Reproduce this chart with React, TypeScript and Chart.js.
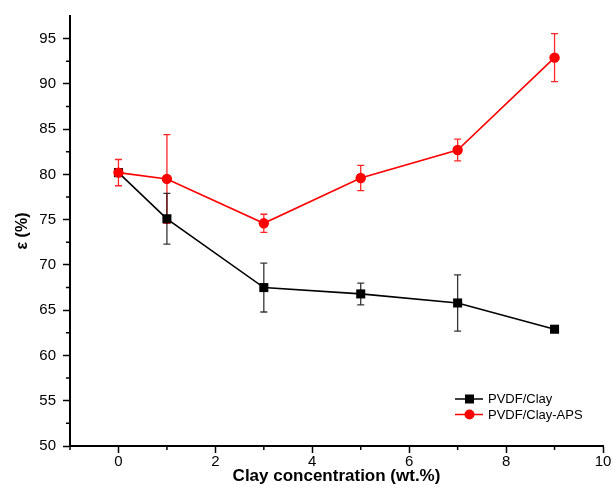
import React, { useEffect, useRef } from "react";
import { Chart, registerables } from "chart.js";

Chart.register(...registerables);

const concentrations = [0, 1, 3, 5, 7, 9];
const clayValues = [80.2, 75.1, 67.5, 66.8, 65.8, 62.9];
const clayErrors = [0, 2.8, 2.7, 1.2, 3.1, 0];
const apsValues = [80.2, 79.5, 74.6, 79.6, 82.7, 92.9];
const apsErrors = [1.45, 4.9, 1.0, 1.4, 1.2, 2.65];

const xMajorTicks = [0, 2, 4, 6, 8, 10];
const xMinorTicks = [-1, 1, 3, 5, 7, 9];
const yMajorTicks = [50, 55, 60, 65, 70, 75, 80, 85, 90, 95];
const yMinorTicks = [52.5, 57.5, 62.5, 67.5, 72.5, 77.5, 82.5, 87.5, 92.5];

const FONT = "'Liberation Sans', Arial, sans-serif";

const errorBarPlugin = {
  id: "errorBars",
  beforeDatasetsDraw(chart: any) {
    const ctx = chart.ctx;
    const xs = chart.scales.x;
    const ys = chart.scales.y;
    chart.data.datasets.forEach((ds: any) => {
      const errs: number[] = ds.errors || [];
      ctx.save();
      ctx.strokeStyle = ds.errorColor;
      ctx.lineWidth = 1.3;
      ds.data.forEach((pt: any, i: number) => {
        const e = errs[i];
        if (!e) return;
        const px = xs.getPixelForValue(pt.x);
        const top = ys.getPixelForValue(pt.y + e);
        const bot = ys.getPixelForValue(pt.y - e);
        ctx.beginPath();
        ctx.moveTo(px, top);
        ctx.lineTo(px, bot);
        ctx.moveTo(px - 3.5, top);
        ctx.lineTo(px + 3.5, top);
        ctx.moveTo(px - 3.5, bot);
        ctx.lineTo(px + 3.5, bot);
        ctx.stroke();
      });
      ctx.restore();
    });
  },
};

const minorTickPlugin = {
  id: "minorTicks",
  afterDraw(chart: any) {
    const ctx = chart.ctx;
    const xs = chart.scales.x;
    const ys = chart.scales.y;
    const area = chart.chartArea;
    ctx.save();
    ctx.strokeStyle = "#000";
    ctx.lineWidth = 1.5;
    ctx.beginPath();
    xMinorTicks.forEach((v) => {
      const px = xs.getPixelForValue(v);
      ctx.moveTo(px, area.bottom);
      ctx.lineTo(px, area.bottom + 4);
    });
    yMinorTicks.forEach((v) => {
      const py = ys.getPixelForValue(v);
      ctx.moveTo(area.left, py);
      ctx.lineTo(area.left - 4, py);
    });
    ctx.stroke();
    ctx.restore();
  },
};

const legendPlugin = {
  id: "insideLegend",
  afterDraw(chart: any) {
    const ctx = chart.ctx;
    const area = chart.chartArea;
    const x0 = area.right - 148;
    const y0 = area.bottom - 47;
    const rows = [chart.data.datasets[1], chart.data.datasets[0]];
    ctx.save();
    rows.forEach((ds: any, i: number) => {
      const y = y0 + i * 15.5;
      ctx.strokeStyle = ds.borderColor;
      ctx.lineWidth = 1.5;
      ctx.beginPath();
      ctx.moveTo(x0, y);
      ctx.lineTo(x0 + 28, y);
      ctx.stroke();
      ctx.fillStyle = ds.pointBackgroundColor;
      const cx = x0 + 14.5;
      if (ds.pointStyle === "rect") {
        ctx.fillRect(cx - 4.5, y - 4.5, 9, 9);
      } else {
        ctx.beginPath();
        ctx.arc(cx, y, 5, 0, Math.PI * 2);
        ctx.fill();
      }
      ctx.fillStyle = "#000";
      ctx.font = `13px ${FONT}`;
      ctx.textBaseline = "middle";
      ctx.textAlign = "left";
      ctx.fillText(ds.label, x0 + 33, y + 0.5);
    });
    ctx.restore();
  },
};

export default function App() {
  const canvasRef = useRef<HTMLCanvasElement | null>(null);

  useEffect(() => {
    const canvas = canvasRef.current;
    if (!canvas) return;
    const chart = new Chart(canvas, {
      type: "line",
      data: {
        datasets: [
          {
            label: "PVDF/Clay-APS",
            data: concentrations.map((x, i) => ({ x, y: apsValues[i] })),
            errors: apsErrors,
            errorColor: "rgba(255,0,0,0.85)",
            borderColor: "#ff0000",
            backgroundColor: "#ff0000",
            pointBackgroundColor: "#ff0000",
            pointBorderColor: "#ff0000",
            pointStyle: "circle",
            pointRadius: 5.2,
            pointBorderWidth: 0,
            borderWidth: 1.6,
            order: 0,
          } as any,
          {
            label: "PVDF/Clay",
            data: concentrations.map((x, i) => ({ x, y: clayValues[i] })),
            errors: clayErrors,
            errorColor: "rgba(0,0,0,0.8)",
            borderColor: "#000000",
            backgroundColor: "#000000",
            pointBackgroundColor: "#000000",
            pointBorderColor: "#000000",
            pointStyle: "rect",
            pointRadius: 6.4,
            pointBorderWidth: 0,
            borderWidth: 1.6,
            order: 1,
          } as any,
        ],
      },
      options: {
        animation: false,
        responsive: false,
        layout: { padding: { left: 0, top: 14, right: 13, bottom: 0 } },
        plugins: {
          legend: { display: false },
          tooltip: { enabled: false },
        },
        scales: {
          x: {
            type: "linear",
            min: -1,
            max: 10,
            afterBuildTicks: (scale: any) => {
              scale.ticks = xMajorTicks.map((v) => ({ value: v }));
            },
            afterFit: (scale: any) => {
              scale.height = 50;
            },
            grid: {
              drawOnChartArea: false,
              drawTicks: true,
              tickLength: 7,
              tickColor: "#000",
              tickWidth: 1.5,
            },
            border: { display: true, color: "#000", width: 2 },
            ticks: {
              color: "#000",
              font: { family: FONT, size: 15 },
              padding: 0,
              maxRotation: 0,
              autoSkip: false,
            },
            title: {
              display: true,
              text: "Clay concentration (wt.%)",
              color: "#000",
              font: { family: FONT, size: 17, weight: "bold" },
              padding: { top: 0, bottom: 9.8 },
            },
          },
          y: {
            type: "linear",
            min: 50,
            max: 97.5,
            afterBuildTicks: (scale: any) => {
              scale.ticks = yMajorTicks.map((v) => ({ value: v }));
            },
            afterFit: (scale: any) => {
              scale.width = 70;
            },
            grid: {
              drawOnChartArea: false,
              drawTicks: true,
              tickLength: 7,
              tickColor: "#000",
              tickWidth: 1.5,
            },
            border: { display: true, color: "#000", width: 2 },
            ticks: {
              color: "#000",
              font: { family: FONT, size: 15 },
              padding: 7,
              autoSkip: false,
            },
            title: {
              display: true,
              text: "ε (%)",
              color: "#000",
              font: { family: FONT, size: 16, weight: "bold" },
              padding: { top: 12.5, bottom: 0 },
              align: "center",
            },
          },
        },
      } as any,
      plugins: [errorBarPlugin, minorTickPlugin, legendPlugin],
    });
    return () => chart.destroy();
  }, []);

  return (
    <div style={{ position: "fixed", left: 0, top: 0, width: 616, height: 496, background: "#fff" }}>
      <canvas ref={canvasRef} width={616} height={496} style={{ display: "block" }} />
    </div>
  );
}
